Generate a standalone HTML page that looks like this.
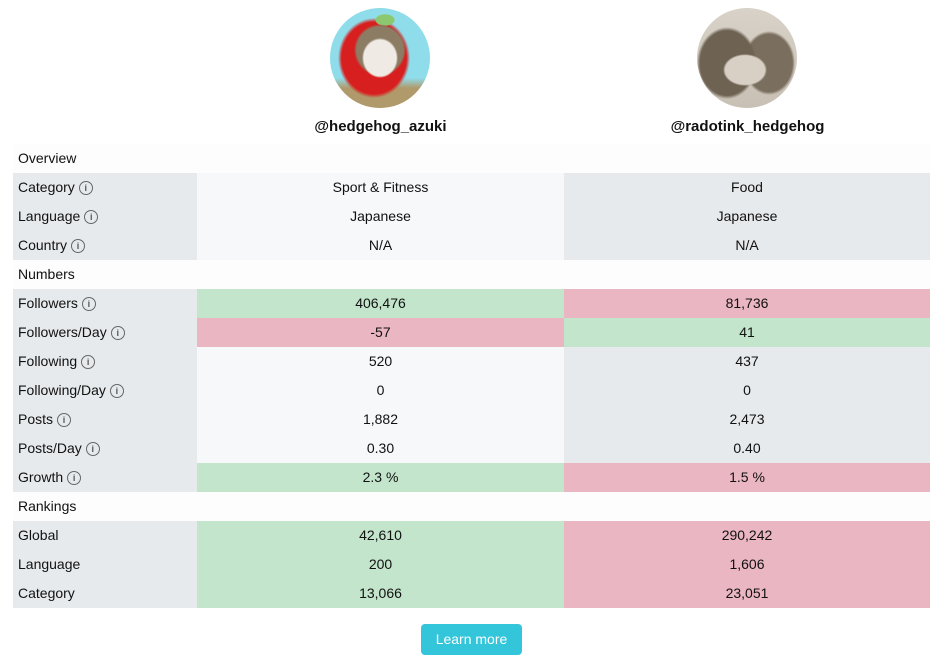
<!DOCTYPE html>
<html><head><style>
body{margin:0;width:946px;height:672px;background:#fff;font-family:"Liberation Sans",sans-serif;font-size:14px;color:#111;position:relative;overflow:hidden}
.av{position:absolute;top:8px;width:100px;height:100px;border-radius:50%;overflow:hidden}
.un{position:absolute;top:118px;width:367px;text-align:center;font-weight:bold;font-size:15px}
.r{position:absolute;left:13px;width:917px;height:29px;line-height:29px}
.r div{position:absolute;top:0;height:29px}
.l{left:0;width:184px;background:#e7eaed;padding-left:5px;box-sizing:border-box;display:flex;align-items:center}
.a{left:184px;width:367px;text-align:center;background:#f7f8fa}
.b{left:551px;width:366px;text-align:center;background:#e7eaed}
.h{background:#fdfdfd;padding-left:5px;box-sizing:border-box}
.g{background:#c3e5cc!important}.p{background:#eab6c2!important}
.i{display:inline-block;width:12px;height:12px;border:1px solid #666;border-radius:50%;font-size:9px;line-height:12px;text-align:center;color:#555;margin-left:4px;font-weight:bold}
.btn{position:absolute;left:421px;top:624px;width:101px;height:31px;background:#33c5d9;border-radius:4px;color:#fff;text-align:center;line-height:31px;font-size:14px}
</style></head><body>
<div class="av" style="left:330px;background:
radial-gradient(ellipse 18px 20px at 50% 50%,#efeae4 0 90%,transparent 100%),
radial-gradient(ellipse 26px 26px at 50% 42%,#8c7c64 0 90%,transparent 100%),
radial-gradient(ellipse 10px 6px at 55% 12%,#8cc870 0 90%,transparent 100%),
radial-gradient(ellipse 36px 40px at 44% 50%,#d81f1f 0 90%,transparent 100%),
linear-gradient(#8fdcea 0 70%,#b09a6c 80%)"></div>
<div class="av" style="left:697px;background:
radial-gradient(ellipse 22px 16px at 48% 62%,#d8d0c4 0 90%,transparent 100%),
radial-gradient(ellipse 30px 36px at 30% 55%,#6e6252 0 90%,transparent 100%),
radial-gradient(ellipse 26px 32px at 72% 55%,#7a6e5e 0 90%,transparent 100%),
linear-gradient(#d8d2c8,#c8c0b4)"></div>
<div class="un" style="left:197px">@hedgehog_azuki</div>
<div class="un" style="left:564px">@radotink_hedgehog</div>

<div class="r h" style="top:144px">Overview</div>
<div class="r" style="top:173px"><div class="l">Category<span class="i">i</span></div><div class="a">Sport &amp; Fitness</div><div class="b">Food</div></div>
<div class="r" style="top:202px"><div class="l">Language<span class="i">i</span></div><div class="a">Japanese</div><div class="b">Japanese</div></div>
<div class="r" style="top:231px"><div class="l">Country<span class="i">i</span></div><div class="a">N/A</div><div class="b">N/A</div></div>
<div class="r h" style="top:260px">Numbers</div>
<div class="r" style="top:289px"><div class="l">Followers<span class="i">i</span></div><div class="a g">406,476</div><div class="b p">81,736</div></div>
<div class="r" style="top:318px"><div class="l">Followers/Day<span class="i">i</span></div><div class="a p">-57</div><div class="b g">41</div></div>
<div class="r" style="top:347px"><div class="l">Following<span class="i">i</span></div><div class="a">520</div><div class="b">437</div></div>
<div class="r" style="top:376px"><div class="l">Following/Day<span class="i">i</span></div><div class="a">0</div><div class="b">0</div></div>
<div class="r" style="top:405px"><div class="l">Posts<span class="i">i</span></div><div class="a">1,882</div><div class="b">2,473</div></div>
<div class="r" style="top:434px"><div class="l">Posts/Day<span class="i">i</span></div><div class="a">0.30</div><div class="b">0.40</div></div>
<div class="r" style="top:463px"><div class="l">Growth<span class="i">i</span></div><div class="a g">2.3 %</div><div class="b p">1.5 %</div></div>
<div class="r h" style="top:492px">Rankings</div>
<div class="r" style="top:521px"><div class="l">Global</div><div class="a g">42,610</div><div class="b p">290,242</div></div>
<div class="r" style="top:550px"><div class="l">Language</div><div class="a g">200</div><div class="b p">1,606</div></div>
<div class="r" style="top:579px"><div class="l">Category</div><div class="a g">13,066</div><div class="b p">23,051</div></div>
<div class="btn">Learn more</div>
</body></html>
